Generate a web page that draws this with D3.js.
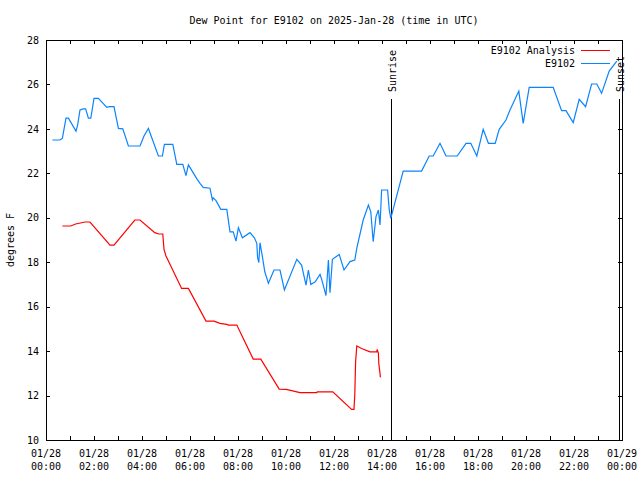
<!DOCTYPE html>
<html><head><meta charset="utf-8">
<script src="https://cdn.jsdelivr.net/npm/d3@7"></script>
<style>
body{margin:0;background:#fff}
svg{display:block}
text{font-family:"DejaVu Sans Mono","Liberation Mono",monospace;font-size:10px;fill:#000}
</style>
</head><body>
<svg id="chart" width="640" height="480"></svg>
<script>
// ---------- data ----------
const chartTitle = "Dew Point for E9102 on 2025-Jan-28 (time in UTC)";
const yLabel = "degrees F";
const dayStart = "2025-01-28 00:00";
const dayEnd = "2025-01-29 00:00";

const analysisName = "E9102 Analysis";
const analysisTimes = ["00:41","01:02","01:14","01:38","01:50","02:40","02:50","03:42","03:55","04:32","04:42","04:52","04:55","05:00","05:39","05:56","06:40","07:00","07:15","07:32","07:36","07:57","08:38","08:57","09:43","10:00","10:14","10:35","11:17","11:18","11:57","12:44","12:50","12:52","12:54","12:57","13:09","13:30","13:47","13:48","13:51","13:52","13:55","13:56"];
const analysisValues = [19.63,19.63,19.72,19.81,19.81,18.77,18.77,19.9,19.9,19.33,19.27,19.27,18.58,18.28,16.82,16.82,15.35,15.35,15.25,15.2,15.17,15.17,13.64,13.64,12.29,12.28,12.22,12.13,12.13,12.17,12.17,11.38,11.38,12.05,13.52,14.23,14.12,13.97,13.97,14.08,13.9,13.45,13.0,12.82];

const stationName = "E9102";
const stationTimes = ["00:16","00:35","00:41","00:50","00:56","01:15","01:19","01:25","01:33","01:39","01:46","01:52","02:00","02:11","02:32","02:38","02:50","03:01","03:12","03:26","03:55","04:05","04:16","04:41","04:51","04:56","05:17","05:27","05:42","05:50","05:56","06:18","06:25","06:33","06:50","06:56","06:58","07:05","07:17","07:32","07:40","07:48","07:55","08:01","08:11","08:30","08:41","08:47","08:49","08:52","08:55","09:01","09:07","09:16","09:30","09:45","09:56","10:27","10:39","10:50","10:56","11:02","11:13","11:25","11:29","11:40","11:46","11:50","11:56","12:13","12:25","12:40","12:52","12:57","13:13","13:26","13:32","13:38","13:45","13:51","13:55","13:57","13:59","14:14","14:18","14:22","14:53","15:39","15:58","16:08","16:25","16:40","17:08","17:30","17:42","17:57","18:13","18:26","18:43","18:53","19:10","19:20","19:42","19:53","20:08","21:08","21:29","21:40","21:58","22:13","22:29","22:44","22:57","23:09","23:28","23:47"];
const stationValues = [23.5,23.5,23.58,24.48,24.48,23.9,24.17,24.85,24.9,24.9,24.48,24.48,25.37,25.37,24.97,25.0,25.0,24.02,24.0,23.23,23.23,23.68,24.02,22.78,22.78,23.3,23.3,22.4,22.4,21.9,22.38,21.73,21.55,21.37,21.33,20.8,20.9,20.77,20.38,20.38,19.37,19.37,18.95,19.55,19.1,19.33,19.1,18.85,18.2,17.98,18.88,18.25,17.57,17.05,17.65,17.65,16.75,18.13,17.87,16.97,17.65,17.0,17.12,17.45,17.24,16.5,18.1,16.63,18.13,18.35,17.65,18.03,18.1,18.63,19.9,20.57,20.27,18.92,20.05,20.35,19.68,20.43,21.25,21.25,20.38,19.97,22.1,22.1,22.78,22.78,23.35,22.78,22.78,23.35,23.35,22.78,23.98,23.35,23.35,23.98,24.4,24.85,25.7,24.25,25.87,25.87,24.82,24.82,24.28,25.33,25.0,26.02,26.02,25.6,26.6,27.05];

const sunriseTime = "14:22";
const sunsetTime = "23:52";
const yTickValues = [10,12,14,16,18,20,22,24,26,28];
const xLabelDates = ["01/28","01/28","01/28","01/28","01/28","01/28","01/28","01/28","01/28","01/28","01/28","01/28","01/29"];
const xLabelTimes = ["00:00","02:00","04:00","06:00","08:00","10:00","12:00","14:00","16:00","18:00","20:00","22:00","00:00"];

// ---------- layout ----------
const M = {left: 46, right: 622, top: 40, bottom: 440};
const parseFull = d3.utcParse("%Y-%m-%d %H:%M");
const parseT = t => parseFull("2025-01-28 " + t);
const t0 = parseFull(dayStart), t1 = parseFull(dayEnd);

const x = d3.scaleUtc().domain([t0, t1]).range([M.left, M.right]);
const y = d3.scaleLinear().domain([10, 28]).range([M.bottom, M.top]);

const svg = d3.select("#chart");
svg.append("rect").attr("width", 640).attr("height", 480).attr("fill", "#fff");

// ticks (inward), bottom + top hourly, left + right every 2
const hourTicks = d3.utcHour.every(1).range(t0, d3.utcMinute.offset(t1, 1));
const labelTicks = d3.utcHour.every(2).range(t0, d3.utcMinute.offset(t1, 1));

const gx = svg.append("g").attr("transform", `translate(0,${M.bottom})`)
  .call(d3.axisBottom(x).tickValues(hourTicks).tickSize(-4).tickFormat(""));
const gxTop = svg.append("g").attr("transform", `translate(0,${M.top})`)
  .call(d3.axisTop(x).tickValues(hourTicks).tickSize(-4).tickFormat(""));
const gy = svg.append("g").attr("transform", `translate(${M.left},0)`)
  .call(d3.axisLeft(y).tickValues(yTickValues).tickSize(-4).tickPadding(7).tickFormat(d3.format("d")));
const gyR = svg.append("g").attr("transform", `translate(${M.right},0)`)
  .call(d3.axisRight(y).tickValues(yTickValues).tickSize(-4).tickFormat(""));
[gx, gxTop, gy, gyR].forEach(g => {
  g.select(".domain").remove();
  g.selectAll("line").attr("stroke", "#000").attr("shape-rendering", "crispEdges");
  g.attr("font-family", null).attr("font-size", null);
});
gy.selectAll("text").attr("fill", "#000");

// two-line x labels
const xl = svg.append("g");
labelTicks.forEach((d, i) => {
  const t = xl.append("text").attr("text-anchor", "middle")
    .attr("transform", `translate(${x(d)},0)`);
  t.append("tspan").attr("x", 0).attr("y", 457).text(xLabelDates[i]);
  t.append("tspan").attr("x", 0).attr("y", 470).text(xLabelTimes[i]);
});

// border
svg.append("rect").attr("x", M.left + 0.5).attr("y", M.top + 0.5)
  .attr("width", M.right - M.left).attr("height", M.bottom - M.top)
  .attr("fill", "none").attr("stroke", "#000").attr("shape-rendering", "crispEdges");

// title & y label
svg.append("text").attr("x", (M.left + M.right) / 2).attr("y", 24)
  .attr("text-anchor", "middle").text(chartTitle);
svg.append("text").attr("transform", "translate(14,240) rotate(-90)")
  .attr("text-anchor", "middle").text(yLabel);

// sunrise / sunset
[[sunriseTime, "Sunrise"], [sunsetTime, "Sunset"]].forEach(([t, lab]) => {
  const xv = Math.round(x(parseT(t))) + 0.5;
  svg.append("line").attr("x1", xv).attr("x2", xv).attr("y1", 99).attr("y2", M.bottom)
    .attr("stroke", "#000").attr("shape-rendering", "crispEdges");
  svg.append("text").attr("transform", `translate(${xv + 4},92) rotate(-90)`)
    .attr("text-anchor", "start").text(lab);
});

// lines
const line = d3.line().x(d => x(d[0])).y(d => y(d[1]));
const analysis = analysisTimes.map((t, i) => [parseT(t), analysisValues[i]]);
const station = stationTimes.map((t, i) => [parseT(t), stationValues[i]]);

svg.append("path").datum(analysis).attr("d", line)
  .attr("fill", "none").attr("stroke", "#ff0000").attr("stroke-width", 1.2);
svg.append("path").datum(station).attr("d", line)
  .attr("fill", "none").attr("stroke", "#0a84ff").attr("stroke-width", 1.2);

// legend
const legend = [[analysisName, "#ff0000", 50], [stationName, "#0a84ff", 63]];
legend.forEach(([name, col, ly]) => {
  svg.append("text").attr("x", 575).attr("y", ly + 3.5).attr("text-anchor", "end").text(name);
  svg.append("line").attr("x1", 581).attr("x2", 610).attr("y1", ly + 0.5).attr("y2", ly + 0.5)
    .attr("stroke", col).attr("stroke-width", 1).attr("shape-rendering", "crispEdges");
});
</script>
</body></html>
